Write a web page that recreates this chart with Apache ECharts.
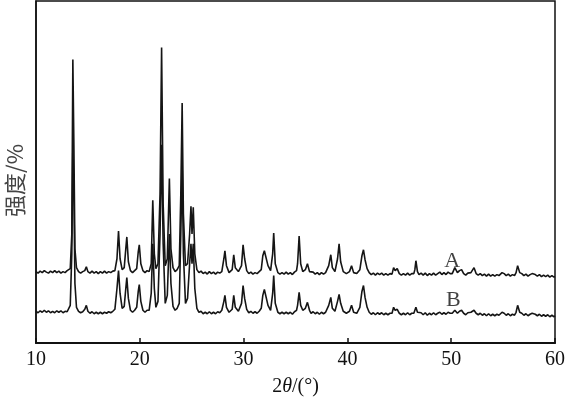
<!DOCTYPE html>
<html><head><meta charset="utf-8">
<script src="https://cdn.jsdelivr.net/npm/echarts@6/dist/echarts.min.js"></script>
<style>html,body{margin:0;padding:0;background:#fff}#c{width:568px;height:402px}</style>
</head><body><div id="c"></div>
<script>
// 2θ (deg), intensity (arbitrary, offset curves)
const curveA = [[10.0,72],[10.2,70.5],[10.4,72.5],[10.6,71],[10.8,73],[11.0,71.5],[11.2,70.5],[11.4,72.5],[11.6,71],[11.8,73],[12.0,71],[12.2,72.5],[12.4,70.5],[12.6,72],[12.8,71],[13.0,73],[13.15,72],[13.3,75],[13.45,110],[13.55,286],[13.65,200],[13.75,95],[13.9,76],[14.1,72],[14.3,70.5],[14.5,72],[14.7,73],[14.85,77],[15.0,72],[15.2,70.5],[15.4,72.5],[15.6,70.5],[15.8,72],[16.0,70],[16.2,72],[16.4,70.5],[16.6,72.5],[16.8,70.5],[17.0,72],[17.2,71],[17.4,72.5],[17.6,73],[17.8,85],[17.95,113],[18.1,85],[18.3,74],[18.5,76],[18.65,95],[18.75,107],[18.9,82],[19.1,73],[19.3,71],[19.5,73],[19.7,75],[19.85,92],[19.95,99],[20.1,80],[20.3,73],[20.5,71],[20.7,73],[20.9,72],[21.1,80],[21.25,144],[21.4,90],[21.55,75],[21.75,80],[21.95,150],[22.1,298],[22.25,140],[22.45,78],[22.65,85],[22.85,166],[23.0,95],[23.2,76],[23.4,72],[23.6,74],[23.8,78],[23.95,150],[24.08,242],[24.2,130],[24.4,78],[24.6,80],[24.8,110],[24.93,138],[25.03,110],[25.15,137],[25.3,90],[25.5,74],[25.7,71],[25.9,72.5],[26.1,70],[26.3,71.5],[26.5,69.5],[26.7,72],[26.9,70],[27.1,71.5],[27.3,69.5],[27.5,71.5],[27.7,70.5],[27.9,72],[28.1,85],[28.2,93],[28.35,78],[28.6,71],[28.9,74],[29.05,89],[29.2,76],[29.5,72],[29.8,78],[29.95,99],[30.1,85],[30.3,73],[30.5,70],[30.7,71.5],[30.9,69.5],[31.1,71],[31.3,70],[31.5,72],[31.7,74],[31.85,88],[32.0,93],[32.15,92],[32.35,78],[32.6,73],[32.8,90],[32.9,111],[33.05,80],[33.3,71],[33.5,69.5],[33.7,71],[33.9,69.5],[34.1,71.5],[34.3,69.5],[34.5,71],[34.7,69],[34.9,71.5],[35.1,73],[35.2,80],[35.35,108],[35.5,80],[35.7,72],[35.95,74],[36.15,80],[36.35,72],[36.5,70],[36.7,71.5],[36.9,69.5],[37.1,71],[37.3,69],[37.5,71],[37.7,69.5],[37.9,71],[38.2,78],[38.4,89],[38.55,76],[38.8,72],[39.05,85],[39.2,100],[39.35,82],[39.6,72],[39.9,70],[40.2,72],[40.4,78],[40.6,71],[40.9,70],[41.2,74],[41.4,88],[41.55,94],[41.7,84],[41.9,75],[42.1,71],[42.3,69],[42.5,70.5],[42.7,68.5],[42.9,70.5],[43.1,69],[43.3,70.5],[43.5,68.5],[43.7,70],[43.9,68.5],[44.1,70],[44.3,69.5],[44.45,76],[44.6,73],[44.8,75],[45.0,70],[45.2,68.5],[45.4,70],[45.6,68.5],[45.8,70.5],[46.0,68.5],[46.2,70],[46.4,70],[46.5,74],[46.6,83],[46.75,72],[46.9,69],[47.1,70.5],[47.3,68.5],[47.5,70.5],[47.7,68],[47.9,70],[48.1,68.5],[48.3,70.5],[48.5,68.5],[48.7,70],[48.9,71.5],[49.1,69],[49.3,71],[49.5,69],[49.7,71.5],[49.9,70],[50.1,70],[50.35,76],[50.6,71],[50.8,73],[51.0,74],[51.2,70],[51.4,68.5],[51.6,70.5],[51.9,71],[52.2,76],[52.4,70],[52.6,68.5],[52.8,70],[53.0,68],[53.2,69.5],[53.4,67.5],[53.6,69.5],[53.8,67.5],[54.0,69],[54.2,67.5],[54.4,69],[54.6,68],[54.9,71],[55.1,70],[55.3,68],[55.5,69.5],[55.7,67.5],[55.9,69],[56.1,68],[56.25,71],[56.4,78],[56.6,71],[56.8,70],[57.0,68],[57.2,69.5],[57.4,67.5],[57.6,69],[57.8,70],[57.95,72],[58.1,69],[58.3,67.5],[58.5,69],[58.7,67],[58.9,68.5],[59.1,67],[59.3,68.5],[59.5,66.5],[59.7,68],[59.9,66.5],[60,67]];
const curveB = [[10.0,32],[10.2,30.5],[10.4,32.5],[10.6,31],[10.8,33],[11.0,31],[11.2,32.5],[11.4,30.5],[11.6,32],[11.8,30.5],[12.0,32.5],[12.2,31],[12.4,32.5],[12.6,30.5],[12.8,32],[13.0,31.5],[13.15,33],[13.3,38],[13.45,90],[13.55,200],[13.65,150],[13.75,60],[13.9,36],[14.1,32],[14.3,30.5],[14.5,31.5],[14.7,34],[14.85,38],[15.0,32],[15.2,30],[15.4,31.5],[15.6,29.5],[15.8,31],[16.0,29.5],[16.2,31],[16.4,29.5],[16.6,31],[16.8,30],[17.0,31.5],[17.2,30.5],[17.4,32],[17.6,34],[17.8,55],[17.95,73],[18.1,50],[18.3,35],[18.5,37],[18.65,55],[18.75,66],[18.9,45],[19.1,33],[19.3,31],[19.5,33],[19.7,36],[19.85,52],[19.95,59],[20.1,42],[20.3,33],[20.5,31],[20.7,33],[20.9,33],[21.1,50],[21.25,100],[21.4,55],[21.55,36],[21.75,42],[21.95,110],[22.1,200],[22.25,100],[22.45,40],[22.65,48],[22.85,110],[23.0,60],[23.2,37],[23.4,33],[23.6,35],[23.8,40],[23.95,110],[24.08,180],[24.2,90],[24.4,40],[24.6,45],[24.8,80],[24.93,100],[25.03,80],[25.15,100],[25.3,55],[25.5,35],[25.7,31],[25.9,32],[26.1,29.5],[26.3,31],[26.5,29.5],[26.7,31.5],[26.9,29.5],[27.1,31],[27.3,29.5],[27.5,31.5],[27.7,30.5],[27.9,33],[28.1,42],[28.2,48],[28.35,36],[28.6,31],[28.9,34],[29.05,48],[29.2,36],[29.5,32],[29.8,40],[29.95,58],[30.1,45],[30.3,34],[30.5,30.5],[30.7,32],[30.9,30],[31.1,31.5],[31.3,30],[31.5,32],[31.7,35],[31.85,48],[32.0,54],[32.15,52],[32.35,38],[32.6,33],[32.8,50],[32.9,68],[33.05,40],[33.3,31],[33.5,29.5],[33.7,31],[33.9,29.5],[34.1,31],[34.3,29.5],[34.5,31],[34.7,29],[34.9,31.5],[35.1,33],[35.2,38],[35.35,51],[35.5,38],[35.7,33],[35.95,35],[36.15,41],[36.35,33],[36.5,30],[36.7,31.5],[36.9,29.5],[37.1,31],[37.3,29],[37.5,31],[37.7,29.5],[37.9,31],[38.2,38],[38.4,46],[38.55,35],[38.8,32],[39.05,42],[39.2,49],[39.35,40],[39.6,32],[39.9,30],[40.2,32],[40.4,38],[40.6,31],[40.9,30],[41.2,36],[41.4,52],[41.55,58],[41.7,46],[41.9,36],[42.1,31],[42.3,29],[42.5,30.5],[42.7,28.5],[42.9,30.5],[43.1,29],[43.3,30.5],[43.5,28.5],[43.7,30],[43.9,28.5],[44.1,30],[44.3,30],[44.45,36],[44.6,33],[44.8,34],[45.0,30],[45.2,28.5],[45.4,30],[45.6,28.5],[45.8,30.5],[46.0,28.5],[46.2,30],[46.4,30],[46.5,32],[46.6,36],[46.75,31],[46.9,29],[47.1,30.5],[47.3,28.5],[47.5,30.5],[47.7,28],[47.9,30],[48.1,28.5],[48.3,30.5],[48.5,28.5],[48.7,30],[48.9,31],[49.1,29],[49.3,30.5],[49.5,29],[49.7,31],[49.9,30],[50.1,30],[50.35,33],[50.6,30],[50.8,32],[51.0,33],[51.2,30],[51.4,28.5],[51.6,30.5],[51.9,31],[52.2,33],[52.4,30],[52.6,28.5],[52.8,30],[53.0,28],[53.2,29.5],[53.4,27.5],[53.6,29.5],[53.8,27.5],[54.0,29],[54.2,27.5],[54.4,29],[54.6,28],[54.9,31],[55.1,30],[55.3,28],[55.5,29.5],[55.7,27.5],[55.9,29],[56.1,28],[56.25,31],[56.4,38],[56.6,31],[56.8,30],[57.0,28],[57.2,29.5],[57.4,27.5],[57.6,29],[57.8,30],[57.95,31],[58.1,29],[58.3,27.5],[58.5,29],[58.7,27],[58.9,28.5],[59.1,27],[59.3,28.5],[59.5,26.5],[59.7,28],[59.9,26.5],[60,27.5]];
const curveLabels = [[50.1,83,'A'],[50.2,43,'B']];
const xTicks = [10,20,30,40,50,60];

const serif = '"Liberation Serif","Noto Serif CJK SC","Noto Sans CJK SC",serif';
const chart = echarts.init(document.getElementById('c'), null, {renderer:'canvas'});
chart.setOption({
  animation:false,
  backgroundColor:'#fff',
  grid:{left:36,right:11,top:1,bottom:56,show:true,borderColor:'#111',borderWidth:1.5,backgroundColor:'transparent'},
  xAxis:{type:'value',min:xTicks[0],max:xTicks[xTicks.length-1],interval:10,
    name:'{n|2}{i|θ}{n|/(°)}',nameLocation:'middle',nameGap:34,
    nameTextStyle:{rich:{n:{fontFamily:serif,fontSize:20,color:'#111'},i:{fontFamily:serif,fontSize:20,fontStyle:'italic',color:'#111'}}},
    axisLine:{show:true,lineStyle:{color:'#111',width:2}},
    axisTick:{show:true,inside:true,length:5,lineStyle:{color:'#111',width:1.5}},
    axisLabel:{margin:7,fontFamily:serif,fontSize:20,color:'#111'},
    splitLine:{show:false}},
  yAxis:{type:'value',min:0,max:345,show:true,
    axisLine:{show:true,lineStyle:{color:'#111',width:1.5}},
    axisTick:{show:false},axisLabel:{show:false},splitLine:{show:false}},
  graphic:[{type:'text',left:4,top:144,rotation:Math.PI/2,
    style:{text:'强度/%',font:'22px "Noto Sans CJK SC", serif',fill:'#444'}}],
  series:[
    {type:'line',data:curveA,showSymbol:false,symbol:'none',lineStyle:{color:'#151515',width:1.6},z:3},
    {type:'line',data:curveB,showSymbol:false,symbol:'none',lineStyle:{color:'#151515',width:1.6},z:2},
    {type:'scatter',data:curveLabels,symbolSize:0,
      label:{show:true,position:'inside',formatter:p=>p.data[2],fontFamily:serif,fontSize:22,color:'#111'},z:4}
  ]
});
</script></body></html>
